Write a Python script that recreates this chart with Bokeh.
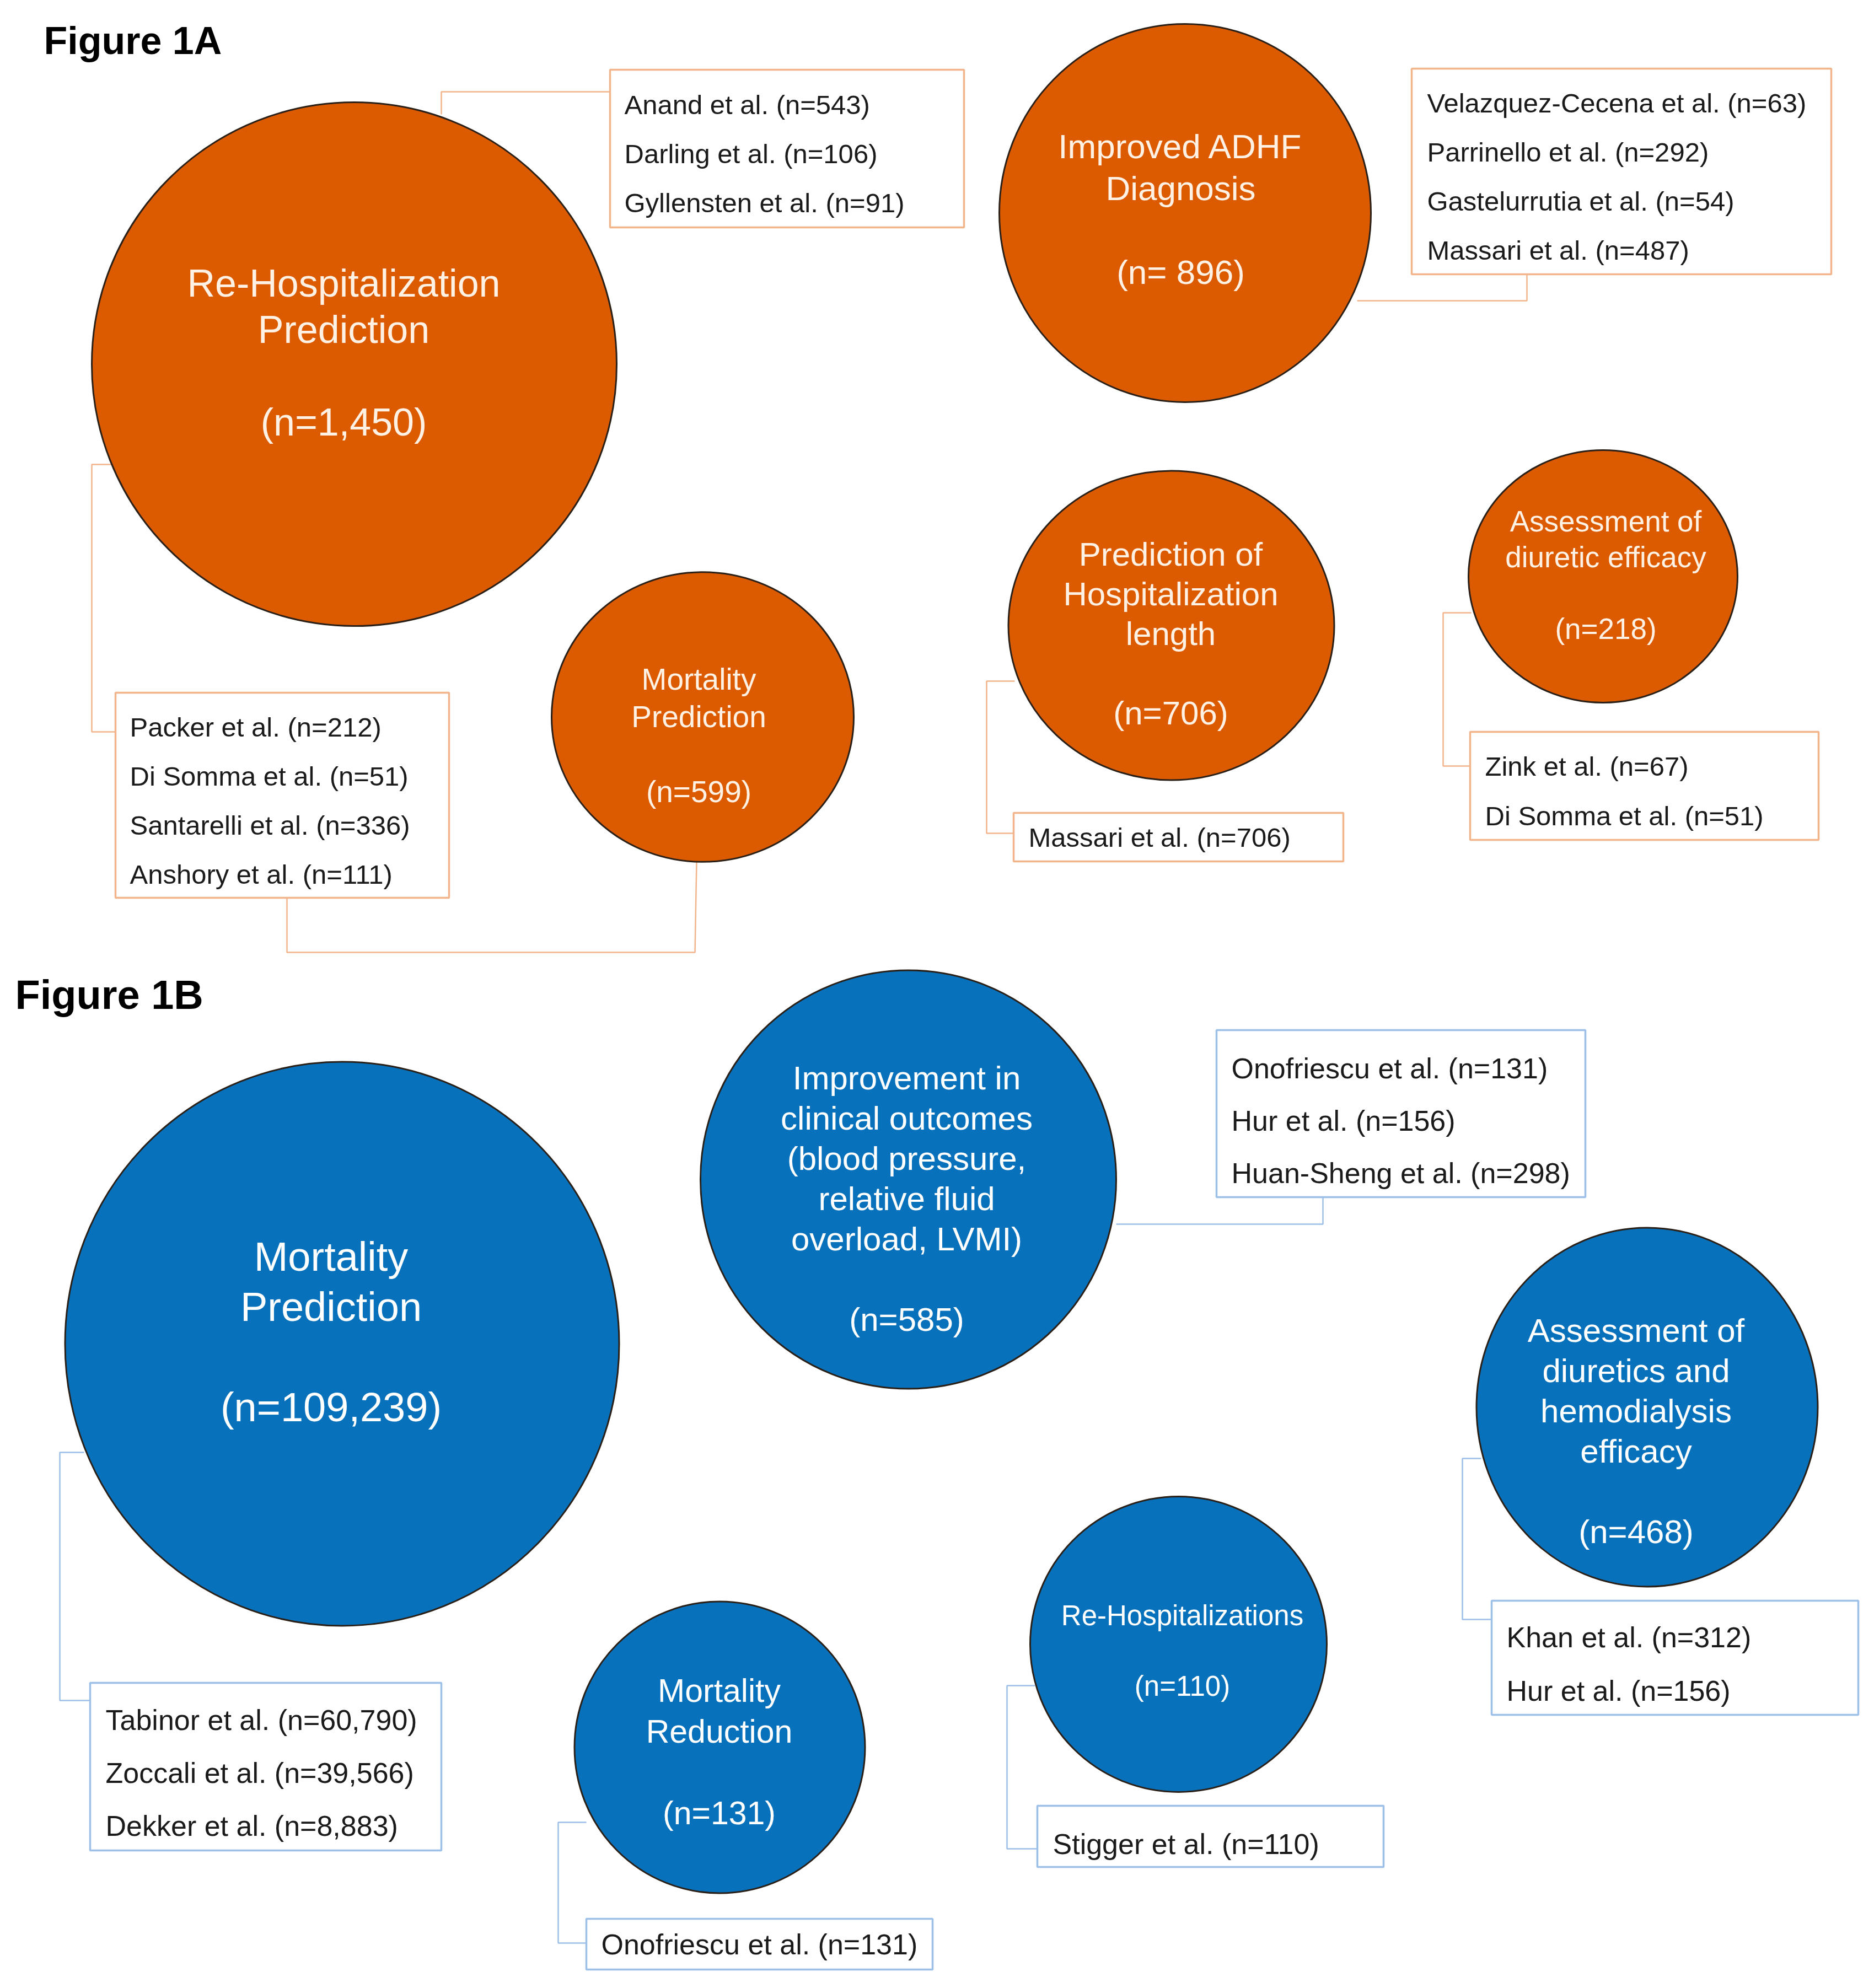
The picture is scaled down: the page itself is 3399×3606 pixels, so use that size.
from bokeh.plotting import figure
from bokeh.models import Range1d, ColumnDataSource
from bokeh.core.properties import value
from bokeh.embed import file_html
from bokeh.resources import INLINE

# ---------------- DATA ----------------
panel_titles = ["Figure 1A", "Figure 1B"]

# Figure 1A topics (orange)
A_topics = [["Re-Hospitalization", "Prediction"],
            ["Mortality", "Prediction"],
            ["Improved ADHF", "Diagnosis"],
            ["Prediction of", "Hospitalization", "length"],
            ["Assessment of", "diuretic efficacy"]]
A_n_labels = ["(n=1,450)", "(n=599)", "(n= 896)", "(n=706)", "(n=218)"]

# Figure 1A study boxes
A_box_authors = [["Anand", "Darling", "Gyllensten"],
                 ["Packer", "Di Somma", "Santarelli", "Anshory"],
                 ["Velazquez-Cecena", "Parrinello", "Gastelurrutia", "Massari"],
                 ["Massari"],
                 ["Zink", "Di Somma"]]
A_box_n = [["543", "106", "91"],
           ["212", "51", "336", "111"],
           ["63", "292", "54", "487"],
           ["706"],
           ["67", "51"]]
# links: (topic index, box index)
A_links = [(0, 0), (0, 1), (1, 1), (2, 2), (3, 3), (4, 4)]

# Figure 1B topics (blue)
B_topics = [["Mortality", "Prediction"],
            ["Improvement in", "clinical outcomes", "(blood pressure,", "relative fluid", "overload, LVMI)"],
            ["Assessment of", "diuretics and", "hemodialysis", "efficacy"],
            ["Re-Hospitalizations"],
            ["Mortality", "Reduction"]]
B_n_labels = ["(n=109,239)", "(n=585)", "(n=468)", "(n=110)", "(n=131)"]

B_box_authors = [["Tabinor", "Zoccali", "Dekker"],
                 ["Onofriescu", "Hur", "Huan-Sheng"],
                 ["Khan", "Hur"],
                 ["Stigger"],
                 ["Onofriescu"]]
B_box_n = [["60,790", "39,566", "8,883"],
           ["131", "156", "298"],
           ["312", "156"],
           ["110"],
           ["131"]]
B_links = [(0, 0), (1, 1), (2, 2), (3, 3), (4, 4)]

# ---------------- LAYOUT (pixel positions) ----------------
# circles: cx, cy, width, height, text x, first line y, line spacing, font px
A_circ = [(642, 660, 952, 950, 623, 513, 84, 70),
          (1274, 1300, 548, 526, 1267, 1231, 68, 55),
          (2149, 386, 674, 686, 2141, 265, 76, 62),
          (2124, 1134, 591, 561, 2123, 1005, 72, 60),
          (2907, 1045, 488, 458, 2912, 945, 65, 53)]
B_circ = [(620, 2437, 1005, 1023, 600, 2279, 91, 74),
          (1647, 2139, 754, 759, 1644, 1955, 73, 60),
          (2987, 2552, 619, 651, 2967, 2413, 73, 60),
          (2137, 2982, 538, 536, 2144, 2930, 64, 51),
          (1305, 3169, 527, 529, 1304, 3066, 74, 59)]
# boxes: left, top, right, bottom, text x, first line y, line spacing, font px
A_box = [(1106, 126, 1748, 412, 1132, 189, 89, 49),
         (209, 1256, 814, 1628, 235, 1318, 89, 49),
         (2560, 124, 3321, 497, 2588, 186, 89, 49),
         (1838, 1474, 2436, 1562, 1865, 1518, 89, 49),
         (2666, 1327, 3298, 1523, 2693, 1389, 90, 49)]
B_box = [(163, 3052, 800, 3356, 191, 3119, 96, 52),
         (2206, 1868, 2875, 2171, 2233, 1937, 95, 52),
         (2705, 2903, 3370, 3110, 2732, 2969, 97, 52),
         (1881, 3275, 2509, 3386, 1909, 3344, 96, 52),
         (1063, 3480, 1691, 3572, 1090, 3526, 96, 52)]
# connector waypoints per link
A_conn = [([800, 800, 1106], [207, 166, 166]),
          ([202, 166, 166, 209], [842, 842, 1327, 1327]),
          ([1263, 1260, 520, 520], [1562, 1727, 1727, 1628]),
          ([2461, 2769, 2769], [545, 545, 497]),
          ([1840, 1789, 1789, 1838], [1235, 1235, 1511, 1511]),
          ([2668, 2617, 2617, 2666], [1111, 1111, 1389, 1389])]
B_conn = [([152, 108, 108, 163], [2634, 2634, 3084, 3084]),
          ([2024, 2399, 2399], [2220, 2220, 2171]),
          ([2686, 2652, 2652, 2705], [2645, 2645, 2937, 2937]),
          ([1877, 1826, 1826, 1881], [3057, 3057, 3353, 3353]),
          ([1063, 1012, 1012, 1063], [3305, 3305, 3524, 3524])]
title_pos = [(79, 73, "70px"), (27, 1804, "74px")]

ORANGE = "#DC5B00"
BLUE = "#0871BC"
OR_LINE = "#F2B48A"
BL_LINE = "#9CC0E8"

FONT = "Liberation Sans"

# ---------------- FIGURE ----------------
p = figure(width=3383, height=3590, x_range=Range1d(0, 3383), y_range=Range1d(3590, 0),
           output_backend="svg", toolbar_location=None, min_border=0)
p.xaxis.visible = False
p.yaxis.visible = False
p.xgrid.visible = False
p.ygrid.visible = False
p.outline_line_color = None
p.background_fill_color = "white"
p.border_fill_color = "white"


def add_panel(topics, n_labels, box_authors, box_n, links, circ, box, conn, fill, box_line, txt_color):
    # connectors
    xs = [c[0] for c in conn]
    ys = [c[1] for c in conn]
    p.multi_line(xs=xs, ys=ys, line_color=box_line, line_width=2.5)
    # circles
    p.ellipse(x=[c[0] for c in circ], y=[c[1] for c in circ],
              width=[c[2] for c in circ], height=[c[3] for c in circ],
              fill_color=fill, line_color="#2a2018", line_width=3)
    # circle texts
    tx, ty, tt, ts = [], [], [], []
    for lines, nlab, c in zip(topics, n_labels, circ):
        allines = list(lines) + ["", nlab]
        for i, ln in enumerate(allines):
            if ln == "":
                continue
            tx.append(c[4]); ty.append(c[5] + i * c[6]); tt.append(ln); ts.append("%dpx" % c[7])
    src = ColumnDataSource(dict(x=tx, y=ty, text=tt, size=ts))
    p.text(x="x", y="y", text="text", source=src, text_font=value(FONT), text_font_size="size",
           text_color=txt_color, text_align="center", text_baseline="middle")
    # boxes
    p.quad(left=[b[0] for b in box], right=[b[2] for b in box],
           top=[b[1] for b in box], bottom=[b[3] for b in box],
           fill_color="white", line_color=box_line, line_width=3.5)
    bx, by, bt, bs = [], [], [], []
    for authors, ns, b in zip(box_authors, box_n, box):
        for i, (a, n) in enumerate(zip(authors, ns)):
            bx.append(b[4]); by.append(b[5] + i * b[6])
            bt.append("%s et al. (n=%s)" % (a, n)); bs.append("%dpx" % b[7])
    bsrc = ColumnDataSource(dict(x=bx, y=by, text=bt, size=bs))
    p.text(x="x", y="y", text="text", source=bsrc, text_font=value(FONT), text_font_size="size",
           text_color="#1a1a1a", text_align="left", text_baseline="middle")


add_panel(A_topics, A_n_labels, A_box_authors, A_box_n, A_links, A_circ, A_box, A_conn,
          ORANGE, OR_LINE, "#FFF1E4")
add_panel(B_topics, B_n_labels, B_box_authors, B_box_n, B_links, B_circ, B_box, B_conn,
          BLUE, BL_LINE, "#FFFFFF")

for (x, y, fs), t in zip(title_pos, panel_titles):
    p.text(x=[x], y=[y], text=[t], text_font=value(FONT), text_font_size=value(fs),
           text_font_style="bold", text_color="#000000", text_align="left", text_baseline="middle")

open("out.html", "w").write(file_html(p, INLINE))
